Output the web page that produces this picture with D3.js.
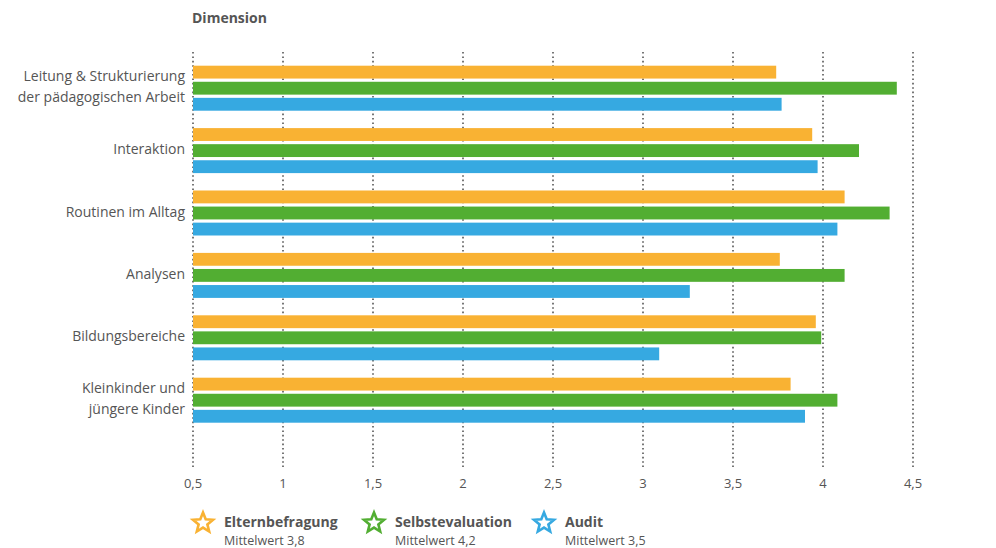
<!DOCTYPE html>
<html><head><meta charset="utf-8">
<script src="https://cdn.jsdelivr.net/npm/d3@7"></script>
<style>body{margin:0;background:#fff}svg{display:block}text{font-family:"Open Sans","Noto Sans",sans-serif}</style>
</head><body><svg id="c" width="996" height="548"></svg>
<script>
const categories = [["Leitung & Strukturierung","der pädagogischen Arbeit"],["Interaktion"],["Routinen im Alltag"],["Analysen"],["Bildungsbereiche"],["Kleinkinder und","jüngere Kinder"]];
const seriesNames = ["Elternbefragung","Selbstevaluation","Audit"];
const seriesSub = ["Mittelwert 3,8","Mittelwert 4,2","Mittelwert 3,5"];
const colors = ["#F9B233","#52AE32","#36A9E1"];
const elternbefragung = [3.74,3.94,4.12,3.76,3.96,3.82];
const selbstevaluation = [4.41,4.20,4.37,4.12,3.99,4.08];
const audit = [3.77,3.97,4.08,3.26,3.09,3.90];
const ticks = [0.5,1,1.5,2,2.5,3,3.5,4,4.5];

const values = [elternbefragung, selbstevaluation, audit];
const svg = d3.select("#c");
const x = d3.scaleLinear().domain([0.5,4.5]).range([193,913]);
const y = d3.scaleBand().domain(d3.range(categories.length)).range([56.5,430.9]);
const sub = d3.scaleBand().domain(d3.range(3)).range([0,45]).paddingInner(0.2);

// gridlines
svg.append("g").selectAll("line").data(ticks).join("line")
  .attr("x1",d=>x(d)).attr("x2",d=>x(d)).attr("y1",52).attr("y2",467)
  .attr("stroke","#555").attr("stroke-width",1.6).attr("stroke-dasharray","1.6,2.8");

// bars
const groups = svg.append("g").selectAll("g").data(categories).join("g")
  .attr("transform",(d,i)=>`translate(0,${y(i)+y.bandwidth()/2-22})`);
groups.selectAll("rect").data((d,i)=>values.map((s,k)=>({k,v:s[i]}))).join("rect")
  .attr("x",x(0.5)).attr("y",d=>sub(d.k)).attr("height",sub.bandwidth())
  .attr("width",d=>x(d.v)-x(0.5)).attr("fill",d=>colors[d.k]);

// category labels
svg.append("g").selectAll("text").data(categories).join("text")
  .attr("x",185).attr("text-anchor","end").attr("fill","#555").attr("font-size",14)
  .each(function(d,i){
    const c = y(i)+y.bandwidth()/2;
    const t = d3.select(this);
    d.forEach((line,j)=>{
      t.append("tspan").attr("x",185).attr("y",c + 4 + (j-(d.length-1)/2)*21).text(line);
    });
  });

// tick labels
svg.append("g").selectAll("text").data(ticks).join("text")
  .attr("x",d=>x(d)).attr("y",488).attr("text-anchor","middle").attr("fill","#555").attr("font-size",13)
  .text(d=>String(d).replace(".",","));

svg.append("text").attr("x",192).attr("y",23).attr("font-size",14).attr("font-weight","bold").attr("fill","#555").text("Dimension");

// legend
const star = (r1,r2)=>{const p=[];for(let i=0;i<10;i++){const a=-Math.PI/2+i*Math.PI/5;const r=i%2?r2:r1;p.push([Math.cos(a)*r,Math.sin(a)*r]);}return "M"+p.join("L")+"Z";};
const legX = [203,374,544];
const leg = svg.append("g").selectAll("g").data(seriesNames).join("g")
  .attr("transform",(d,i)=>`translate(${legX[i]},523)`);
leg.append("path").attr("d",star(10.5,4.6)).attr("fill","none").attr("stroke",(d,i)=>colors[i]).attr("stroke-width",2.6).attr("stroke-linejoin","miter");
leg.append("text").attr("x",21).attr("y",3.5).attr("font-size",14).attr("font-weight","bold").attr("fill","#555").text(d=>d);
leg.append("text").attr("x",21).attr("y",21.5).attr("font-size",12.5).attr("fill","#555").text((d,i)=>seriesSub[i]);
</script></body></html>
